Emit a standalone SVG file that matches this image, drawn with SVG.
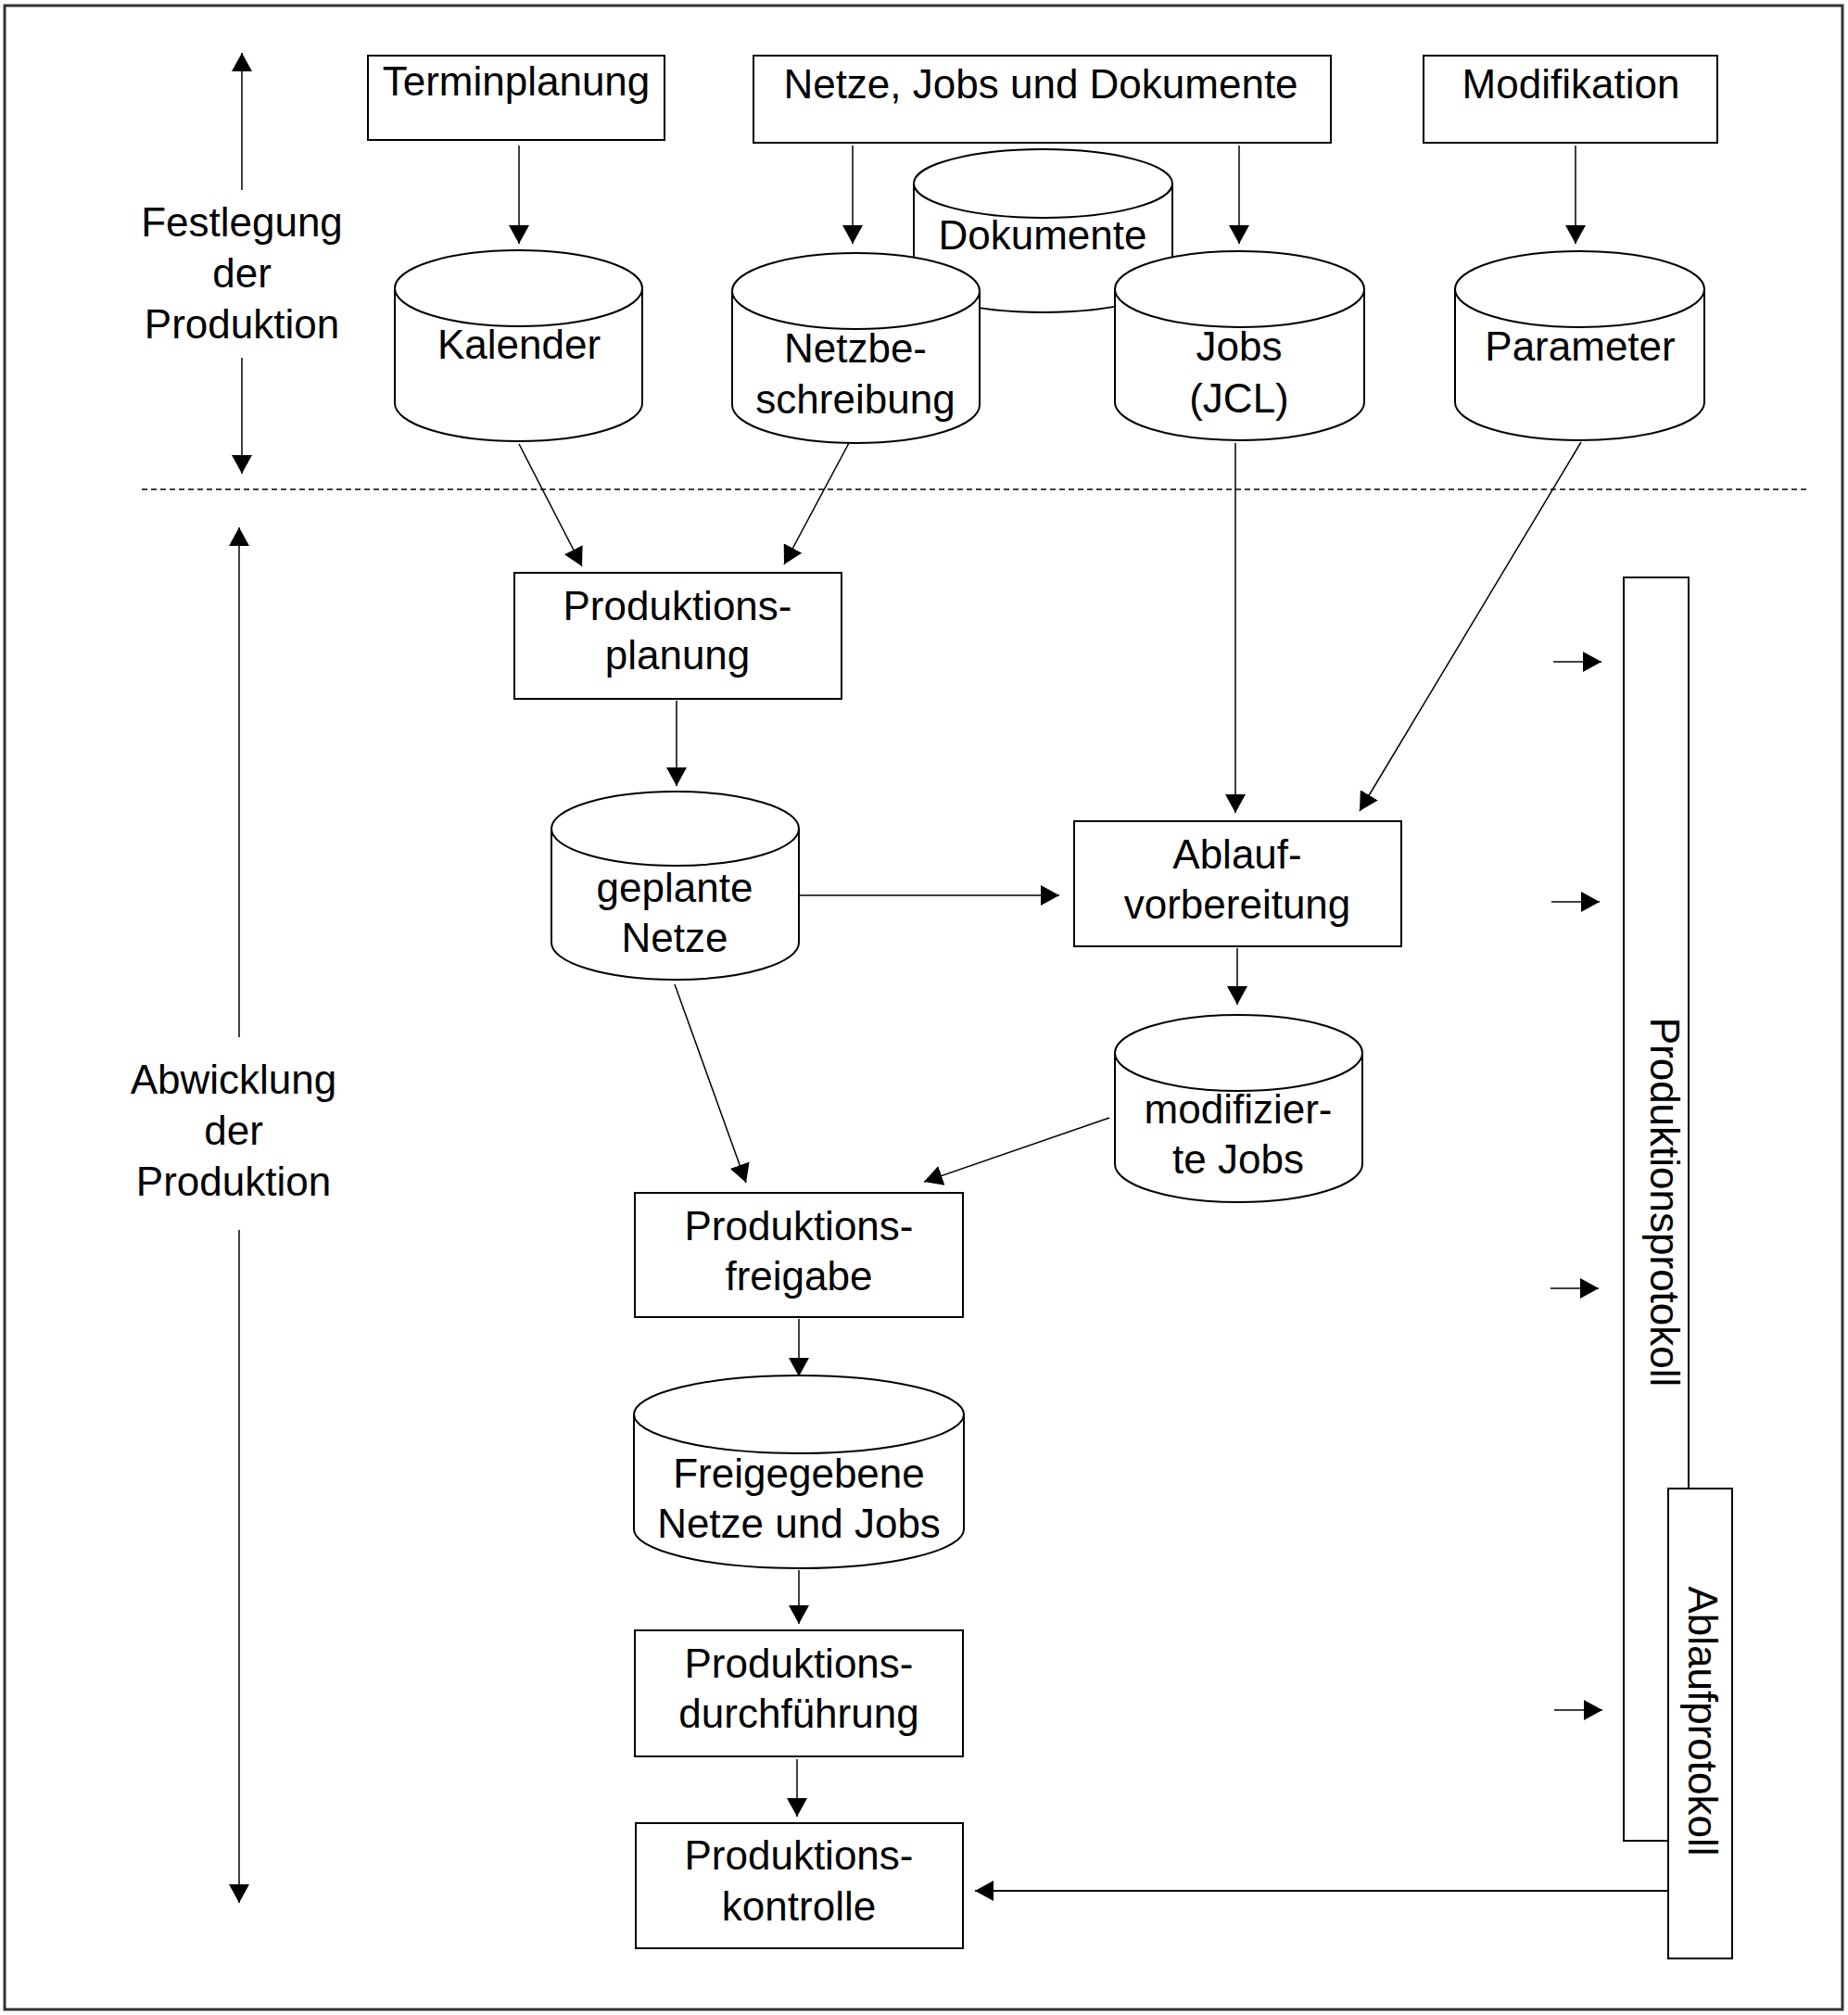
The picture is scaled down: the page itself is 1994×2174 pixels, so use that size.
<svg xmlns="http://www.w3.org/2000/svg" width="1994" height="2174" viewBox="0 0 1994 2174">
<style>
  text { font-family: "Liberation Sans", Arial, sans-serif; font-size: 44px; fill: #000; text-anchor: middle; }
  .box { fill: #fff; stroke: #000; stroke-width: 2; }
  .cyl { fill: #fff; stroke: #000; stroke-width: 2; }
  .cylarc { fill: none; stroke: #000; stroke-width: 2; }
  .con { fill: none; stroke: #000; stroke-width: 1.5; }
</style>
<defs>
  <marker id="ah" markerUnits="userSpaceOnUse" markerWidth="22" markerHeight="22" viewBox="0 0 22 22" refX="20" refY="11" orient="auto">
    <path d="M0,0 L20,11 L0,22 Z" fill="#000"/>
  </marker>
</defs>
<rect x="0" y="0" width="1994" height="2174" fill="#fff"/>
<rect x="5" y="6" width="1983" height="2162" fill="none" stroke="#333" stroke-width="3"/>

<g id="phase-labels">
  <text x="261" y="255">Festlegung</text>
  <text x="261" y="310">der</text>
  <text x="261" y="365">Produktion</text>
  <text x="252" y="1180">Abwicklung</text>
  <text x="252" y="1235">der</text>
  <text x="252" y="1290">Produktion</text>
</g>

<g id="terminplanung"><rect class="box" x="397" y="60" width="320" height="91"/><text x="557" y="103">Terminplanung</text></g>
<g id="netze-jobs-dokumente"><rect class="box" x="813" y="60" width="623" height="94"/><text x="1123" y="106">Netze, Jobs und Dokumente</text></g>
<g id="modifikation"><rect class="box" x="1536" y="60" width="317" height="94"/><text x="1695" y="106">Modifikation</text></g>

<g id="dokumente">
  <path class="cyl" d="M986,198 A139.5,37 0 0 1 1265,198 V300 A139.5,37 0 0 1 986,300 Z"/>
  <path class="cylarc" d="M986,198 A139.5,37 0 0 0 1265,198"/>
  <text x="1125" y="269">Dokumente</text>
</g>
<g id="kalender">
  <path class="cyl" d="M426,311 A133.5,41 0 0 1 693,311 V435 A133.5,41 0 0 1 426,435 Z"/>
  <path class="cylarc" d="M426,311 A133.5,41 0 0 0 693,311"/>
  <text x="560" y="387">Kalender</text>
</g>
<g id="netzbeschreibung">
  <path class="cyl" d="M790,314 A133.5,41 0 0 1 1057,314 V437 A133.5,41 0 0 1 790,437 Z"/>
  <path class="cylarc" d="M790,314 A133.5,41 0 0 0 1057,314"/>
  <text x="923" y="391">Netzbe-</text>
  <text x="923" y="446">schreibung</text>
</g>
<g id="jobs-jcl">
  <path class="cyl" d="M1203,312 A134.5,41 0 0 1 1472,312 V434 A134.5,41 0 0 1 1203,434 Z"/>
  <path class="cylarc" d="M1203,312 A134.5,41 0 0 0 1472,312"/>
  <text x="1337" y="389">Jobs</text>
  <text x="1337" y="445">(JCL)</text>
</g>
<g id="parameter">
  <path class="cyl" d="M1570,312 A134.5,41 0 0 1 1839,312 V434 A134.5,41 0 0 1 1570,434 Z"/>
  <path class="cylarc" d="M1570,312 A134.5,41 0 0 0 1839,312"/>
  <text x="1705" y="389">Parameter</text>
</g>

<line x1="153" y1="528" x2="1950" y2="528" stroke="#000" stroke-width="1.5" stroke-dasharray="6,4"/>

<g id="produktionsplanung"><rect class="box" x="555" y="618" width="353" height="136"/><text x="731" y="669">Produktions-</text><text x="731" y="722">planung</text></g>

<g id="geplante-netze">
  <path class="cyl" d="M595,894 A133.5,40 0 0 1 862,894 V1017 A133.5,40 0 0 1 595,1017 Z"/>
  <path class="cylarc" d="M595,894 A133.5,40 0 0 0 862,894"/>
  <text x="728" y="973">geplante</text>
  <text x="728" y="1027">Netze</text>
</g>

<g id="ablaufvorbereitung"><rect class="box" x="1159" y="886" width="353" height="135"/><text x="1335" y="937">Ablauf-</text><text x="1335" y="991">vorbereitung</text></g>

<g id="modifizierte-jobs">
  <path class="cyl" d="M1203,1136 A133.5,41 0 0 1 1470,1136 V1256 A133.5,41 0 0 1 1203,1256 Z"/>
  <path class="cylarc" d="M1203,1136 A133.5,41 0 0 0 1470,1136"/>
  <text x="1336" y="1212">modifizier-</text>
  <text x="1336" y="1266">te Jobs</text>
</g>

<g id="produktionsfreigabe"><rect class="box" x="685" y="1287" width="354" height="134"/><text x="862" y="1338">Produktions-</text><text x="862" y="1392">freigabe</text></g>

<g id="freigegebene-netze-jobs">
  <path class="cyl" d="M684,1526 A178,42 0 0 1 1040,1526 V1650 A178,42 0 0 1 684,1650 Z"/>
  <path class="cylarc" d="M684,1526 A178,42 0 0 0 1040,1526"/>
  <text x="862" y="1605">Freigegebene</text>
  <text x="862" y="1659">Netze und Jobs</text>
</g>

<g id="produktionsdurchfuehrung"><rect class="box" x="685" y="1759" width="354" height="136"/><text x="862" y="1810">Produktions-</text><text x="862" y="1864">durchführung</text></g>
<g id="produktionskontrolle"><rect class="box" x="686" y="1967" width="353" height="135"/><text x="862" y="2017">Produktions-</text><text x="862" y="2072">kontrolle</text></g>

<g id="produktionsprotokoll">
  <rect class="box" x="1752" y="623" width="70" height="1363"/>
  <text transform="translate(1781,1297) rotate(90)" x="0" y="0">Produktionsprotokoll</text>
</g>
<g id="ablaufprotokoll">
  <rect class="box" x="1800" y="1606" width="69" height="507"/>
  <text transform="translate(1822,1857) rotate(90)" x="0" y="0">Ablaufprotokoll</text>
</g>

<g id="connectors">
  <line class="con" x1="261" y1="205" x2="261" y2="57" marker-end="url(#ah)"/>
  <line class="con" x1="261" y1="386" x2="261" y2="511" marker-end="url(#ah)"/>
  <line class="con" x1="258" y1="1119" x2="258" y2="569" marker-end="url(#ah)"/>
  <line class="con" x1="258" y1="1327" x2="258" y2="2053" marker-end="url(#ah)"/>

  <line class="con" x1="560" y1="157" x2="560" y2="263" marker-end="url(#ah)"/>
  <line class="con" x1="920" y1="157" x2="920" y2="263" marker-end="url(#ah)"/>
  <line class="con" x1="1337" y1="157" x2="1337" y2="263" marker-end="url(#ah)"/>
  <line class="con" x1="1700" y1="157" x2="1700" y2="263" marker-end="url(#ah)"/>

  <line class="con" x1="560" y1="479" x2="628" y2="611" marker-end="url(#ah)"/>
  <line class="con" x1="916" y1="478" x2="846" y2="609" marker-end="url(#ah)"/>
  <line class="con" x1="1333" y1="478" x2="1333" y2="877" marker-end="url(#ah)"/>
  <line class="con" x1="1706" y1="477" x2="1467" y2="875" marker-end="url(#ah)"/>

  <line class="con" x1="730" y1="756" x2="730" y2="848" marker-end="url(#ah)"/>
  <line class="con" x1="862" y1="966" x2="1143" y2="966" marker-end="url(#ah)"/>
  <line class="con" x1="1335" y1="1023" x2="1335" y2="1084" marker-end="url(#ah)"/>
  <line class="con" x1="728" y1="1062" x2="805" y2="1276" marker-end="url(#ah)"/>
  <line class="con" x1="1197" y1="1206" x2="997" y2="1275" marker-end="url(#ah)"/>

  <line class="con" x1="862" y1="1423" x2="862" y2="1485" marker-end="url(#ah)"/>
  <line class="con" x1="862" y1="1694" x2="862" y2="1752" marker-end="url(#ah)"/>
  <line class="con" x1="860" y1="1898" x2="860" y2="1960" marker-end="url(#ah)"/>
  <line x1="1800" y1="2040" x2="1052" y2="2040" stroke="#000" stroke-width="2.2" marker-end="url(#ah)"/>

  <line class="con" x1="1676" y1="714" x2="1728" y2="714" marker-end="url(#ah)"/>
  <line class="con" x1="1674" y1="973" x2="1726" y2="973" marker-end="url(#ah)"/>
  <line class="con" x1="1673" y1="1390" x2="1725" y2="1390" marker-end="url(#ah)"/>
  <line class="con" x1="1677" y1="1845" x2="1729" y2="1845" marker-end="url(#ah)"/>
</g>
</svg>
